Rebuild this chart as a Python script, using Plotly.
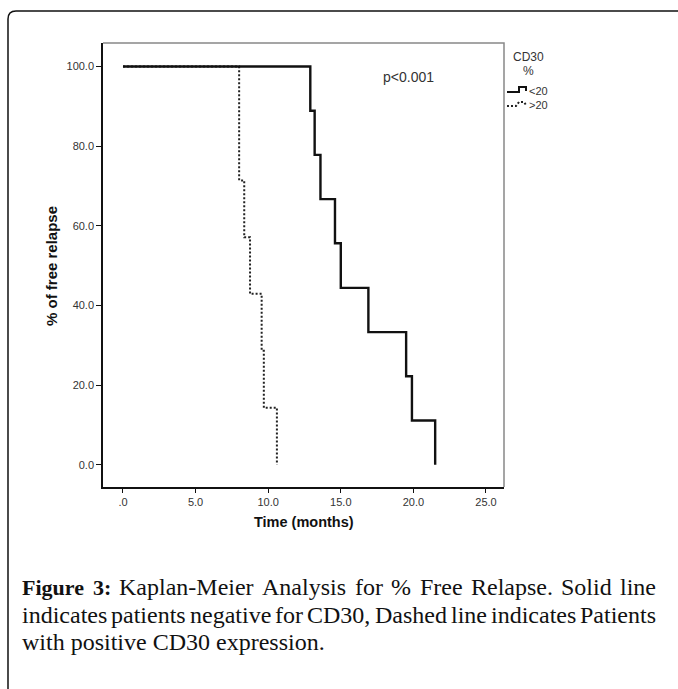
import plotly.graph_objects as go

# ---------------- data ----------------
time_lt20 = [0, 12.9, 13.2, 13.6, 14.6, 15.0, 16.9, 19.5, 19.9, 21.5]
surv_lt20 = [100.0, 88.9, 77.8, 66.7, 55.6, 44.4, 33.3, 22.2, 11.1, 0.0]
time_gt20 = [0, 8.0, 8.35, 8.75, 9.55, 9.7, 10.6]
surv_gt20 = [100.0, 71.4, 57.1, 42.9, 28.6, 14.3, 0.0]

x_tickvals = [0, 5, 10, 15, 20, 25]
x_ticktext = [".0", "5.0", "10.0", "15.0", "20.0", "25.0"]
y_tickvals = [0, 20, 40, 60, 80, 100]
y_ticktext = ["0.0", "20.0", "40.0", "60.0", "80.0", "100.0"]

legend_title = ["CD30", "%"]
legend_labels = ["<20", ">20"]
p_text = "p<0.001"
x_title = "Time (months)"
y_title = "% of free relapse"
caption_line1 = [("Figure", True), ("3:", True), ("Kaplan-Meier", False), ("Analysis", False),
                 ("for", False), ("%", False), ("Free", False), ("Relapse.", False),
                 ("Solid", False), ("line", False)]
caption_line2 = "indicates patients negative for CD30, Dashed line indicates Patients"
caption_line3 = "with positive CD30 expression."

# ---------------- layout geometry ----------------
W, H = 678, 689
L, R, T, B = 103, 504, 43, 487  # plot area in pixels


def px(x):
    return (x - L) / (R - L)


def py(y):
    return (B - y) / (B - T)


def P(x, y):
    return f"{px(x):.5f},{py(y):.5f}"


SANS = "Liberation Sans, Arial, sans-serif"
SERIF = "Liberation Serif, Times New Roman, serif"

# Times metrics (Liberation Serif is metric compatible)
TR = {' ': 250, '%': 833, ',': 250, '-': 333, '.': 250, ':': 278,
      '0': 500, '1': 500, '2': 500, '3': 500, '4': 500, '5': 500, '6': 500, '7': 500, '8': 500, '9': 500,
      'A': 722, 'B': 667, 'C': 667, 'D': 722, 'E': 611, 'F': 556, 'G': 722, 'H': 722, 'I': 333,
      'K': 722, 'L': 611, 'M': 889, 'N': 722, 'O': 722, 'P': 556, 'R': 667, 'S': 556, 'T': 611,
      'a': 444, 'b': 500, 'c': 444, 'd': 500, 'e': 444, 'f': 333, 'g': 500, 'h': 500, 'i': 278,
      'j': 278, 'k': 500, 'l': 278, 'm': 778, 'n': 500, 'o': 500, 'p': 500, 'q': 500, 'r': 333,
      's': 389, 't': 278, 'u': 500, 'v': 500, 'w': 722, 'x': 500, 'y': 500, 'z': 444}
TB = {'F': 611, 'i': 278, 'g': 500, 'u': 556, 'r': 444, 'e': 444, '3': 500, ':': 333, ' ': 250}

REG_SIZE = 24
BOLD_SIZE = 22


def word_width(w, bold):
    tab = TB if bold else TR
    size = BOLD_SIZE if bold else REG_SIZE
    return sum(tab.get(c, 500) for c in w) * size / 1000.0


fig = go.Figure()

fig.add_trace(go.Scatter(x=time_gt20, y=surv_gt20, mode="lines", line_shape="hv",
                         line=dict(color="#222222", width=2, dash="2px,2px"),
                         showlegend=False, hoverinfo="skip"))
fig.add_trace(go.Scatter(x=time_lt20, y=surv_lt20, mode="lines", line_shape="hv",
                         line=dict(color="#111111", width=2.4),
                         showlegend=False, hoverinfo="skip"))

annotations = []
annotations.append(dict(x=px(382), y=py(77), xref="paper", yref="paper", text=p_text,
                        showarrow=False, xanchor="left", yanchor="middle", borderpad=0,
                        font=dict(family=SANS, size=14, color="#333333")))
annotations.append(dict(x=px(528), y=py(57), xref="paper", yref="paper", text=legend_title[0],
                        showarrow=False, xanchor="center", yanchor="middle",
                        font=dict(family=SANS, size=12, color="#333333")))
annotations.append(dict(x=px(528), y=py(71), xref="paper", yref="paper", text=legend_title[1],
                        showarrow=False, xanchor="center", yanchor="middle",
                        font=dict(family=SANS, size=12, color="#333333")))
annotations.append(dict(x=px(528), y=py(91), xref="paper", yref="paper", text=legend_labels[0],
                        showarrow=False, xanchor="left", yanchor="middle", borderpad=0,
                        font=dict(family=SANS, size=11, color="#333333")))
annotations.append(dict(x=px(528), y=py(105), xref="paper", yref="paper", text=legend_labels[1],
                        showarrow=False, xanchor="left", yanchor="middle", borderpad=0,
                        font=dict(family=SANS, size=11, color="#333333")))
annotations.append(dict(x=px((L + R) / 2), y=py(522), xref="paper", yref="paper",
                        text=f"<b>{x_title}</b>", showarrow=False, xanchor="center", yanchor="middle",
                        font=dict(family=SANS, size=14.5, color="#111111")))
annotations.append(dict(x=px(51), y=py(266), xref="paper", yref="paper",
                        text=f"<b>{y_title}</b>", showarrow=False, xanchor="center", yanchor="middle",
                        textangle=-90, font=dict(family=SANS, size=15, color="#111111")))


def justified(words, y, x0=21, x1=655):
    widths = [word_width(w, b) for w, b in words]
    gap = (x1 - x0 - sum(widths)) / (len(words) - 1)
    x = x0
    for (w, b), wd in zip(words, widths):
        txt = f"<b>{w}</b>" if b else w
        annotations.append(dict(x=px(x), y=py(y), xref="paper", yref="paper", text=txt,
                                showarrow=False, xanchor="left", yanchor="middle", borderpad=0,
                                font=dict(family=SERIF, size=BOLD_SIZE if b else REG_SIZE,
                                          color="#111111")))
        x += wd + gap


justified(caption_line1, 587)
justified([(w, False) for w in caption_line2.split(" ")], 615)
annotations.append(dict(x=px(21), y=py(642), xref="paper", yref="paper", text=caption_line3,
                        showarrow=False, xanchor="left", yanchor="middle", borderpad=0,
                        font=dict(family=SERIF, size=REG_SIZE, color="#111111")))

shapes = []
# outer rounded frame
shapes.append(dict(type="path", xref="paper", yref="paper",
                   path=f"M {P(8, 700)} L {P(8, 19)} Q {P(8, 11)} {P(16, 11)} L {P(690, 11)}",
                   line=dict(color="#111111", width=1.5)))
# grey top/right border of plot area
shapes.append(dict(type="path", xref="paper", yref="paper",
                   path=f"M {P(L, T)} L {P(R, T)} L {P(R, B)}",
                   line=dict(color="#888888", width=1.5)))
# legend glyphs
shapes.append(dict(type="path", xref="paper", yref="paper",
                   path=f"M {P(507, 92)} L {P(519, 92)} L {P(519, 87)} L {P(526, 87)} L {P(526, 91)}",
                   line=dict(color="#111111", width=2)))
shapes.append(dict(type="path", xref="paper", yref="paper",
                   path=f"M {P(507, 106)} L {P(516, 106)} L {P(519, 102)} L {P(524, 102)} L {P(526, 105)}",
                   line=dict(color="#222222", width=2, dash="2px,2px")))

fig.update_layout(
    width=W, height=H, autosize=False,
    margin=dict(l=L, r=W - R, t=T, b=H - B, pad=0),
    paper_bgcolor="white", plot_bgcolor="white",
    showlegend=False,
    annotations=annotations,
    shapes=shapes,
    xaxis=dict(range=[-1.376, 26.24], tickvals=x_tickvals, ticktext=x_ticktext,
               showgrid=False, zeroline=False, showline=True, linecolor="#111111", linewidth=1.5,
               ticks="outside", ticklen=4, tickcolor="#111111", tickwidth=1,
               tickfont=dict(family=SANS, size=11, color="#333333")),
    yaxis=dict(range=[-5.6, 105.9], tickvals=y_tickvals, ticktext=y_ticktext,
               showgrid=False, zeroline=False, showline=True, linecolor="#111111", linewidth=1.5,
               ticks="outside", ticklen=5, tickcolor="#111111", tickwidth=1,
               tickfont=dict(family=SANS, size=11, color="#333333")),
)

fig.write_html("out.html", config={"displayModeBar": False})

# remove the browser's default page margin so the figure sits at (0, 0)
with open("out.html", "r", encoding="utf-8") as f:
    html = f.read()
html = html.replace("<head>", "<head><style>html,body{margin:0;padding:0;overflow:hidden;}</style>", 1)
with open("out.html", "w", encoding="utf-8") as f:
    f.write(html)
